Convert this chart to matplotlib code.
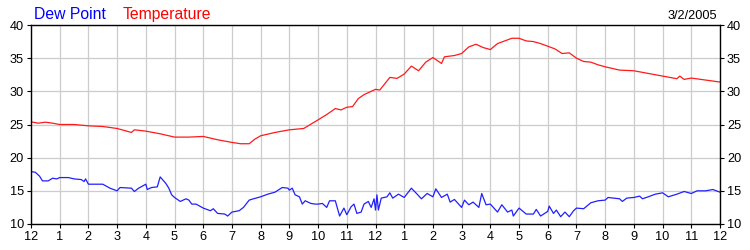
import numpy as np
import matplotlib
matplotlib.use("Agg")
import matplotlib.pyplot as plt

plt.rcParams['font.family'] = ['Liberation Sans', 'DejaVu Sans']

# hours since midnight
temp_hours = [0, 0.25, 0.5, 0.75, 1, 1.5, 2, 2.5, 3, 3.25, 3.5, 3.6, 4, 4.5, 5, 5.5, 6, 6.5,
              7, 7.3, 7.6, 7.8, 8, 8.5, 9, 9.5, 10, 10.3, 10.6, 10.8, 11, 11.2, 11.4, 11.6, 12,
              12.15, 12.5, 12.75, 13, 13.25, 13.5, 13.75, 14, 14.3, 14.4, 14.75, 15, 15.25, 15.5,
              15.75, 16, 16.25, 16.5, 16.75, 17, 17.25, 17.5, 17.75, 18, 18.25, 18.5, 18.75, 19,
              19.25, 19.5, 19.75, 20, 20.5, 21, 21.5, 22, 22.5, 22.6, 22.75, 23, 23.5, 24]
temperature = [25.4, 25.2, 25.35, 25.2, 25.0, 25.0, 24.8, 24.7, 24.4, 24.1, 23.8, 24.2, 24.0,
               23.6, 23.1, 23.1, 23.2, 22.7, 22.3, 22.1, 22.1, 22.8, 23.3, 23.8, 24.2, 24.4,
               25.7, 26.5, 27.4, 27.2, 27.6, 27.7, 28.9, 29.5, 30.3,
               30.2, 32.1, 31.95, 32.6, 33.8, 33.1, 34.4, 35.1, 34.2, 35.2, 35.4, 35.7, 36.7,
               37.1, 36.6, 36.3, 37.2, 37.6, 38.0, 38.0, 37.6, 37.5, 37.2, 36.8, 36.4, 35.7,
               35.8, 35.0, 34.5, 34.4, 34.0, 33.7, 33.2, 33.1, 32.7, 32.3, 31.9, 32.3, 31.8,
               32.0, 31.7, 31.4]

dew_hours = [0, 0.15, 0.3, 0.4, 0.6, 0.75, 0.9, 1, 1.3, 1.5, 1.75, 1.85, 1.9, 2, 2.5, 2.75,
             3, 3.1, 3.5, 3.6, 3.75, 4, 4.05, 4.2, 4.4, 4.5, 4.7, 4.8, 4.9, 5, 5.2, 5.4, 5.5,
             5.6, 5.75, 6, 6.25, 6.35, 6.5, 6.75, 6.85, 7, 7.25, 7.4, 7.6, 7.75, 8, 8.25, 8.5,
             8.75, 8.95, 9, 9.1, 9.2, 9.35, 9.45, 9.55, 9.75, 9.9, 10, 10.15, 10.3, 10.4, 10.6,
             10.75, 10.9, 11, 11.15, 11.25, 11.35, 11.5, 11.6, 11.75, 11.85, 11.95, 12.0,
             12.05, 12.1, 12.2, 12.4, 12.5, 12.6, 12.8, 13, 13.25, 13.45, 13.6, 13.8, 14, 14.1,
             14.3, 14.5, 14.6, 14.75, 15, 15.1, 15.25, 15.4, 15.6, 15.7, 15.85, 16, 16.25,
             16.4, 16.6, 16.75, 16.8, 17, 17.25, 17.5, 17.6, 17.75, 18, 18.05, 18.2, 18.3,
             18.45, 18.6, 18.75, 18.9, 19, 19.25, 19.5, 19.75, 20, 20.1, 20.5, 20.6, 20.75,
             21, 21.2, 21.3, 21.5, 21.75, 22, 22.2, 22.5, 22.75, 23, 23.2, 23.5, 23.75, 24]
dew_point = [17.9, 17.8, 17.2, 16.5, 16.5, 16.9, 16.8, 17.0, 17.0, 16.8, 16.7, 16.4, 16.8,
             16.0, 16.0, 15.4, 15.0, 15.5, 15.4, 14.9, 15.4, 16.0, 15.2, 15.5, 15.6, 17.1,
             16.1, 15.4, 14.4, 14.0, 13.4, 13.8, 13.6, 13.0, 13.0, 12.4, 12.0, 12.3, 11.6,
             11.5, 11.2, 11.8, 12.0, 12.5, 13.6, 13.8, 14.1, 14.5, 14.8, 15.5, 15.4, 15.1,
             15.4, 14.4, 14.1, 13.0, 13.5, 13.1, 13.0, 13.0, 13.1, 12.5, 13.5, 13.5, 11.2,
             12.4, 11.4, 12.6, 13.0, 11.6, 11.8, 13.0, 13.4, 12.5, 13.8, 12.1,
             14.4, 12.1, 13.9, 14.1, 14.7, 13.9, 14.5, 14.0, 15.4, 14.5, 13.8, 14.6, 14.1,
             15.3, 14.0, 14.5, 13.3, 13.7, 12.5, 13.6, 12.9, 13.3, 12.5, 14.6, 12.9, 13.0,
             11.8, 12.9, 11.8, 12.1, 11.2, 12.4, 11.5, 11.5, 12.2, 11.2, 11.9, 12.7, 11.6,
             12.1, 11.1, 11.8, 11.1, 12.0, 12.4, 12.3, 13.2, 13.5, 13.6, 14.0, 13.8, 13.4,
             13.9, 14.0, 14.2, 13.8, 14.1, 14.5, 14.7, 14.1, 14.5, 14.9, 14.6, 15.0, 15.0,
             15.2, 14.8]

hour_ticks = list(range(25))
hour_labels = ['12'] + [str(h) for h in range(1, 12)] + ['12'] + [str(h) for h in range(1, 12)] + ['12']
y_ticks = [10, 15, 20, 25, 30, 35, 40]
date_label = "3/2/2005"

fig = plt.figure(figsize=(7.5, 2.5), dpi=100)
ax = fig.add_axes([31 / 750, 1 - 224 / 250, 689 / 750, 199 / 250])

ax.plot(dew_hours, dew_point, color='#2020ff', lw=0.9)
ax.plot(temp_hours, temperature, color='#ff1a1a', lw=0.9)

ax.set_xlim(0, 24)
ax.set_ylim(10, 40)
ax.set_xticks(hour_ticks)
ax.set_xticklabels(hour_labels)
ax.set_yticks(y_ticks)
ax.grid(True, color='#cccccc', lw=0.9)
ax.set_axisbelow(True)
ax.tick_params(axis='both', labelsize=9.2, length=3, width=0.8, pad=2,
               left=True, right=True, labelleft=True, labelright=True)
for s in ax.spines.values():
    s.set_linewidth(1.0)

fig.text(34 / 750, 1 - 19 / 250, "Dew Point", color='#0000ff', fontsize=11.3, va='baseline')
fig.text(123 / 750, 1 - 19 / 250, "Temperature", color='#ff0000', fontsize=11.3, va='baseline')
fig.text(717 / 750, 1 - 19 / 250, date_label, color='black', fontsize=9.2, va='baseline', ha='right')

fig.savefig("out.png", dpi=100)
